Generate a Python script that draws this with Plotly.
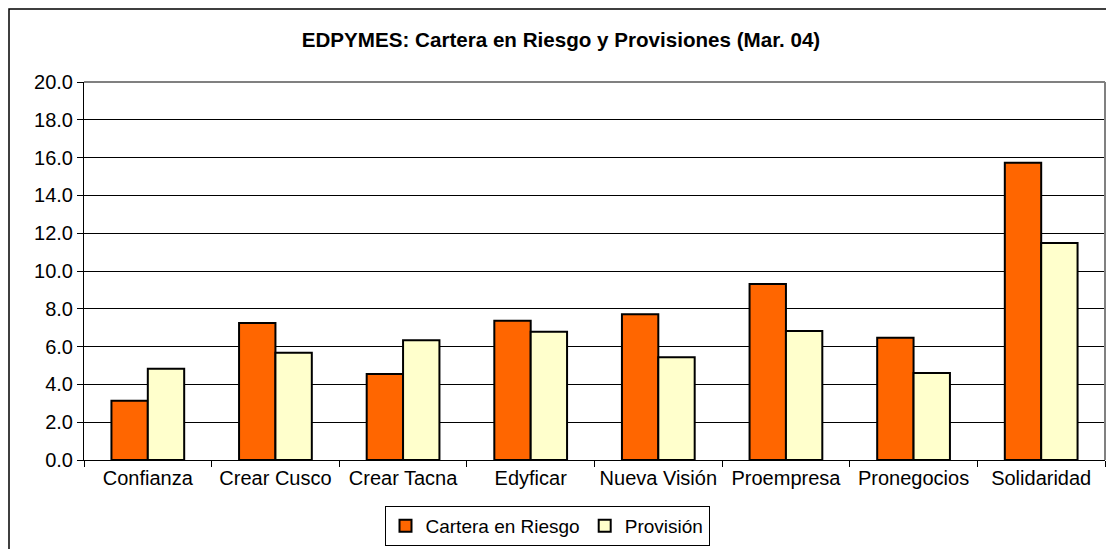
import plotly.graph_objects as go

# values
entidades = ["Confianza", "Crear Cusco", "Crear Tacna", "Edyficar",
             "Nueva Visión", "Proempresa", "Pronegocios", "Solidaridad"]
cartera_riesgo = [3.14, 7.25, 4.55, 7.37, 7.71, 9.31, 6.47, 15.73]
provision = [4.83, 5.68, 6.33, 6.79, 5.43, 6.83, 4.60, 11.48]

FONT = "Liberation Sans, Arial, sans-serif"

# the page body adds an 8px margin, so the figure is drawn 8px smaller
OFF = 8
W, H = 1114 - OFF, 549 - OFF
L, R, T, B = 84 - OFF, 9, 82 - OFF, 89
pw = W - L - R
ph = H - T - B


def px_x(x):
    # screenshot pixel -> paper coordinate
    return (x - OFF - L) / pw


def px_y(y):
    return (H - B - (y - OFF)) / ph


fig = go.Figure()
fig.add_trace(go.Bar(
    x=entidades, y=cartera_riesgo, name="Cartera en Riesgo",
    marker=dict(color="#FF6600", line=dict(color="black", width=2)),
))
fig.add_trace(go.Bar(
    x=entidades, y=provision, name="Provisión",
    marker=dict(color="#FFFFCC", line=dict(color="black", width=2)),
))

fig.update_layout(
    width=W, height=H,
    margin=dict(l=L, r=R, t=T, b=B, autoexpand=False),
    paper_bgcolor="white", plot_bgcolor="white",
    font=dict(family=FONT, size=20, color="black"),
    barmode="group", bargap=0.43, bargroupgap=0,
    title=dict(
        text="<b>EDPYMES: Cartera en Riesgo y Provisiones (Mar. 04)</b>",
        x=(561 - OFF) / W, xanchor="center",
        y=1 - (40 - OFF) / H, yanchor="middle",
        font=dict(family=FONT, size=20.6, color="black"),
    ),
    legend=dict(
        orientation="h", xref="container", yref="container",
        x=(547 - OFF) / W, xanchor="center",
        y=1 - (546 - OFF) / H, yanchor="bottom",
        bordercolor="black", borderwidth=1,
        font=dict(family=FONT, size=19),
        traceorder="normal", itemwidth=30,
    ),
    showlegend=True,
)

fig.update_xaxes(
    type="category", showline=True, linecolor="black", linewidth=1,
    ticks="outside", tickson="boundaries", ticklen=6, tickcolor="black",
    showgrid=False, automargin=False,
)
fig.update_yaxes(
    range=[0, 20], dtick=2, tickformat=".1f",
    showline=True, linecolor="black", linewidth=1,
    ticks="outside", ticklen=6, tickcolor="black",
    showgrid=True, gridcolor="black", gridwidth=1,
    zeroline=False, automargin=False,
)

# gray plot-area outline on top and right
fig.add_shape(type="line", xref="paper", yref="paper", x0=0, x1=1, y0=1, y1=1,
              line=dict(color="#808080", width=2))
fig.add_shape(type="line", xref="paper", yref="paper", x0=1, x1=1, y0=0, y1=1,
              line=dict(color="#808080", width=2))

# outer chart border (continues past the right and bottom edges)
fig.add_shape(type="rect", xref="paper", yref="paper",
              x0=px_x(9), x1=px_x(1125), y0=px_y(560), y1=px_y(9),
              line=dict(color="black", width=1.5))

fig.write_html("out.html")
